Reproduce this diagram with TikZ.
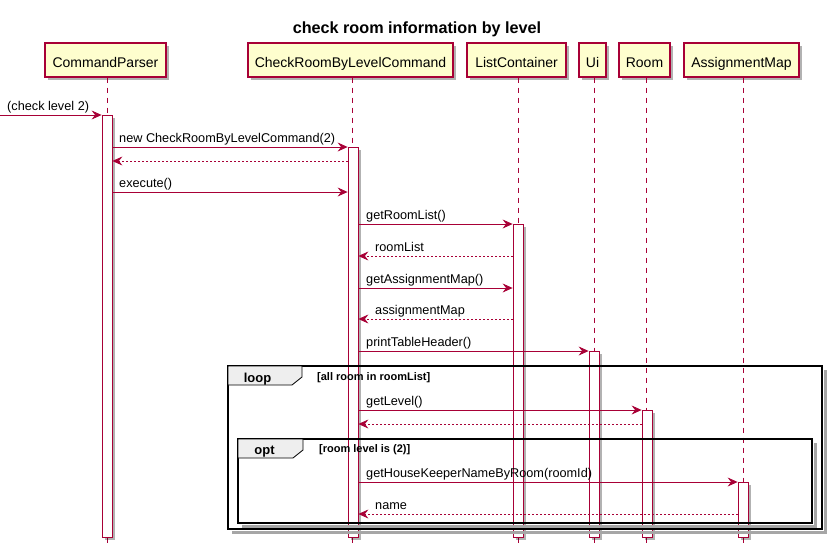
\documentclass[tikz,border=0pt]{standalone}
\usepackage{fontspec}
\setmainfont{Liberation Sans}
\usetikzlibrary{arrows.meta,shadows}
\definecolor{crim}{HTML}{A80036}
\definecolor{pfill}{HTML}{FEFECE}
\definecolor{tabfill}{HTML}{EEEEEE}
\begin{document}
\begin{tikzpicture}[x=1pt,y=-1pt,
  participant/.style={draw=crim, fill=pfill, line width=1.2pt, inner sep=0pt,
    minimum height=34pt, text height=14pt, text depth=0pt,
    font=\fontsize{14}{16}\selectfont,
    drop shadow={shadow xshift=3pt, shadow yshift=-3pt, fill=black, opacity=0.3}},
  actbar/.style={draw=crim, fill=white, line width=0.8pt, inner sep=0pt,
    minimum width=10pt, anchor=north,
    drop shadow={shadow xshift=3pt, shadow yshift=-3pt, fill=black, opacity=0.3}},
  lifeline/.style={draw=crim, line width=0.8pt, dash pattern=on 5pt off 5pt},
  msg/.style={draw=crim, line width=0.8pt, -{Stealth[length=10pt,width=9pt,inset=3.5pt]}},
  ret/.style={msg, dash pattern=on 2pt off 2pt},
  lbl/.style={font=\fontsize{12.7}{15}\selectfont, inner sep=0pt, anchor=base west},
  frameline/.style={draw=black, line width=1.6pt},
  frameshadow/.style={draw=black!35, line width=3pt},
  tabshape/.style={draw=black, fill=tabfill, line width=0.8pt},
  framelbl/.style={font=\bfseries\fontsize{13}{15}\selectfont, inner sep=0pt, anchor=base},
  condlbl/.style={font=\bfseries\fontsize{11}{13}\selectfont, inner sep=0pt, anchor=base west}
]
\useasboundingbox (0,0) rectangle (835,552);

% title
\node[font=\bfseries\fontsize{16.2}{19}\selectfont, inner sep=0pt, anchor=base] (title) at (417,33) {check room information by level};

% participants
\node[participant, minimum width=121pt] (cp) at (105.5,60) {CommandParser};
\node[participant, minimum width=205pt] (cr) at (350.5,60) {CheckRoomByLevelCommand};
\node[participant, minimum width=99pt] (lc) at (516.5,60) {ListContainer};
\node[participant, minimum width=27pt] (ui) at (592.5,60) {Ui};
\node[participant, minimum width=51pt] (room) at (644.5,60) {Room};
\node[participant, minimum width=115pt] (am) at (741.5,60) {AssignmentMap};

% lifeline ends
\coordinate (cpe) at (107,547);
\coordinate (cre) at (352,547);
\coordinate (lce) at (518,547);
\coordinate (uie) at (594,547);
\coordinate (roome) at (646,547);
\coordinate (ame) at (743,547);

\draw[lifeline] (cp.south -| cpe) -- (cpe);
\draw[lifeline] (cr.south -| cre) -- (cre);
\draw[lifeline] (lc.south -| lce) -- (lce);
\draw[lifeline] (ui.south -| uie) -- (uie);
\draw[lifeline] (room.south -| roome) -- (roome);
\draw[lifeline] (am.south -| ame) -- (ame);

% activation bars
\node[actbar, minimum height=422pt] (cpbar) at (107,115) {};
\node[actbar, minimum height=390pt] (crbar) at (353,147) {};
\node[actbar, minimum height=313pt] (lcbar) at (518,224) {};
\node[actbar, minimum height=186pt] (uibar) at (594,351) {};
\node[actbar, minimum height=127pt] (roombar) at (647,410) {};
\node[actbar, minimum height=55pt] (ambar) at (743,482) {};

% loop frame
\draw[frameshadow] (825.5,370) -- (825.5,532.5) -- (232,532.5);
\draw[frameline] (228,366) rectangle (822,529);
\draw[tabshape] (228,366) -- (302,366) -- (302,377) -- (292,385) -- (228,385) -- cycle;
\node[framelbl] (looplbl) at (257.5,382) {loop};
\node[condlbl] (loopcond) at (317,380) {[all room in roomList]};

% opt frame
\draw[frameshadow] (815.5,443) -- (815.5,526.5) -- (242,526.5);
\draw[frameline] (238,439) rectangle (812,523);
\draw[tabshape] (238,439) -- (303,439) -- (303,450) -- (293,458) -- (238,458) -- cycle;
\node[framelbl] (optlbl) at (264.5,454) {opt};
\node[condlbl] (optcond) at (319,452) {[room level is (2)]};

% messages
\coordinate (start) at (0,115);
\draw[msg] (start) -- (cpbar.west |- 0,115);
\node[lbl] (m1) at (7,110) {(check level 2)};

\draw[msg] (cpbar.east |- 0,147) -- (crbar.west |- 0,147);
\node[lbl] (m2) at (119,142) {new CheckRoomByLevelCommand(2)};

\draw[ret] (crbar.west |- 0,161) -- (cpbar.east |- 0,161);

\draw[msg] (cpbar.east |- 0,192) -- (crbar.west |- 0,192);
\node[lbl] (m4) at (119,187) {execute()};

\draw[msg] (crbar.east |- 0,224) -- (lcbar.west |- 0,224);
\node[lbl] (m5) at (366,219) {getRoomList()};

\draw[ret] (lcbar.west |- 0,256) -- (crbar.east |- 0,256);
\node[lbl] (m6) at (375,251) {roomList};

\draw[msg] (crbar.east |- 0,288) -- (lcbar.west |- 0,288);
\node[lbl] (m7) at (366,283) {getAssignmentMap()};

\draw[ret] (lcbar.west |- 0,319) -- (crbar.east |- 0,319);
\node[lbl] (m8) at (375,314) {assignmentMap};

\draw[msg] (crbar.east |- 0,351) -- (uibar.west |- 0,351);
\node[lbl] (m9) at (366,346) {printTableHeader()};

\draw[msg] (crbar.east |- 0,410) -- (roombar.west |- 0,410);
\node[lbl] (m10) at (366,405) {getLevel()};

\draw[ret] (roombar.west |- 0,424) -- (crbar.east |- 0,424);

\draw[msg] (crbar.east |- 0,482) -- (ambar.west |- 0,482);
\node[lbl] (m12) at (366,477) {getHouseKeeperNameByRoom(roomId)};

\draw[ret] (ambar.west |- 0,514) -- (crbar.east |- 0,514);
\node[lbl] (m13) at (375,509) {name};
\end{tikzpicture}
\end{document}
